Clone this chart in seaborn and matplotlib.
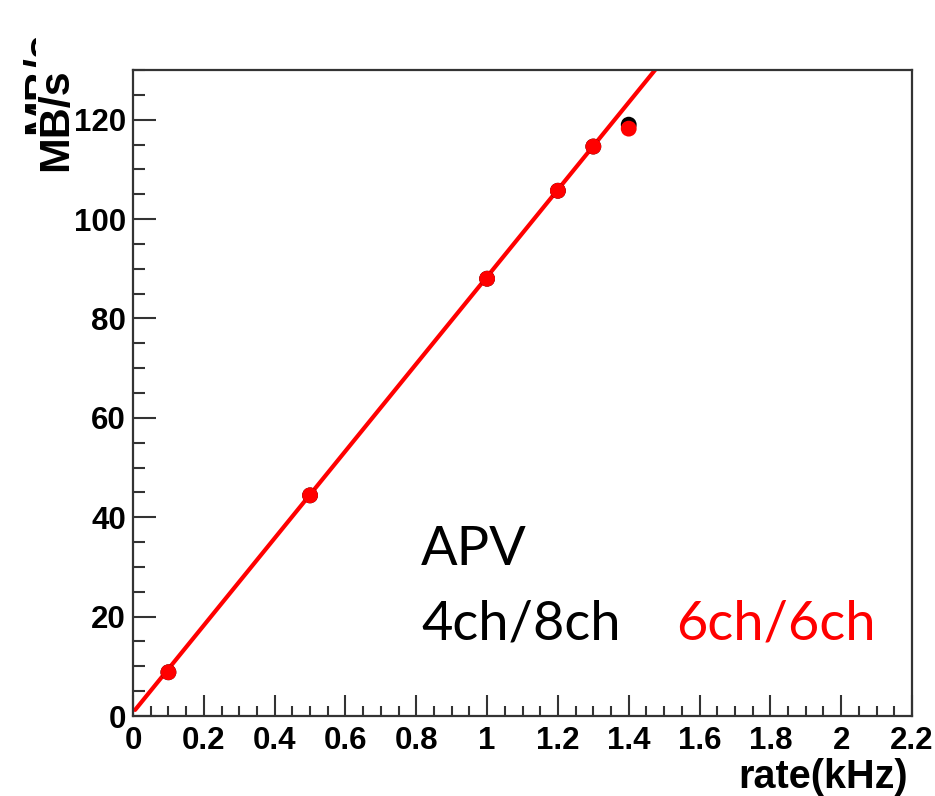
import numpy as np
import pandas as pd
import matplotlib
matplotlib.use("Agg")
import matplotlib.pyplot as plt
import seaborn as sns
from matplotlib.patches import Rectangle

# ---- data ----
rate_khz = [0.1, 0.5, 1.0, 1.2, 1.3, 1.4]
mbps_4ch8ch = [8.8, 44.4, 88.0, 105.7, 114.6, 119.0]   # black
mbps_6ch6ch = [8.8, 44.4, 88.0, 105.7, 114.6, 118.2]   # red
fit_slope = 87.7
fit_intercept = 0.7
fit_range = [0.006, 1.6]
xtick_vals = [0, 0.2, 0.4, 0.6, 0.8, 1.0, 1.2, 1.4, 1.6, 1.8, 2.0, 2.2]
xtick_labels = ["0", "0.2", "0.4", "0.6", "0.8", "1", "1.2", "1.4", "1.6", "1.8", "2", "2.2"]
ytick_vals = [0, 20, 40, 60, 80, 100, 120]

sns.set_theme(style="ticks")
plt.rcParams['font.family'] = ['Liberation Sans', 'DejaVu Sans']

W, H = 935, 796
fig = plt.figure(figsize=(W / 100, H / 100), dpi=100)
ax = fig.add_axes([133 / W, 1 - 716 / H, (912 - 133) / W, (716 - 70) / H])

df_b = pd.DataFrame({"x": rate_khz, "y": mbps_4ch8ch})
df_r = pd.DataFrame({"x": rate_khz, "y": mbps_6ch6ch})
fx = np.linspace(fit_range[0], fit_range[1], 50)
df_fit = pd.DataFrame({"x": fx, "y": fit_slope * fx + fit_intercept})

sns.lineplot(data=df_fit, x="x", y="y", ax=ax, color="#ff0000", linewidth=3.0, zorder=2)
sns.scatterplot(data=df_b, x="x", y="y", ax=ax, color="black", s=130, edgecolor="none", zorder=3)
sns.scatterplot(data=df_r, x="x", y="y", ax=ax, color="#ff0000", s=130, edgecolor="none", zorder=4)

ax.set_xlim(0, 2.2)
ax.set_ylim(0, 130)
ax.set_xticks(xtick_vals)
ax.set_xticklabels(xtick_labels)
ax.set_yticks(ytick_vals)
ax.set_xticks(np.arange(0, 2.2001, 0.05), minor=True)
ax.set_yticks(np.arange(0, 130.01, 5), minor=True)

for lab in ax.get_xticklabels() + ax.get_yticklabels():
    lab.set_fontsize(22.5)
    lab.set_fontweight("bold")
    lab.set_color("black")

ax.tick_params(axis="x", which="major", direction="in", length=15, width=1.5, pad=7, color="#333333")
ax.tick_params(axis="x", which="minor", direction="in", length=7.5, width=1.5, color="#333333")
ax.tick_params(axis="y", which="major", direction="in", length=16.5, width=1.5, pad=5, color="#333333")
ax.tick_params(axis="y", which="minor", direction="in", length=8.5, width=1.5, color="#333333")
for s in ax.spines.values():
    s.set_linewidth(1.6)
    s.set_color("#333333")
    s.set_visible(True)

ax.set_xlabel("")
ax.set_ylabel("")

# axis titles (ROOT style)
fig.text(908 / W, 1 - 788 / H, "rate(kHz)", ha="right", va="baseline",
         fontsize=28.5, fontweight="bold", color="black")
fig.text(36 / W, 1 - 68 / H, "MB/s", ha="right", va="top", rotation=90,
         rotation_mode="anchor", fontsize=31, fontweight="bold", color="black")
ghost = fig.text(21 / W, 1 - 31 / H, "MB/s", ha="right", va="top", rotation=90,
                 rotation_mode="anchor", fontsize=31, fontweight="bold", color="black")
clip = Rectangle((0, 1 - 145 / H), 36 / W, (145 - 32) / H, transform=fig.transFigure,
                 facecolor="none", edgecolor="none")
fig.add_artist(clip)
ghost.set_clip_path(clip)

# overlay annotations
fig.text(421 / W, 1 - 565 / H, "APV", ha="left", va="baseline",
         fontsize=39, family=["Lato", "DejaVu Sans"], color="black")
fig.text(421 / W, 1 - 640 / H, "4ch/8ch", ha="left", va="baseline",
         fontsize=39, family=["Lato", "DejaVu Sans"], color="black")
fig.text(676 / W, 1 - 640 / H, "6ch/6ch", ha="left", va="baseline",
         fontsize=39, family=["Lato", "DejaVu Sans"], color="#ff0000")

fig.savefig("out.png", dpi=100, facecolor="white")
